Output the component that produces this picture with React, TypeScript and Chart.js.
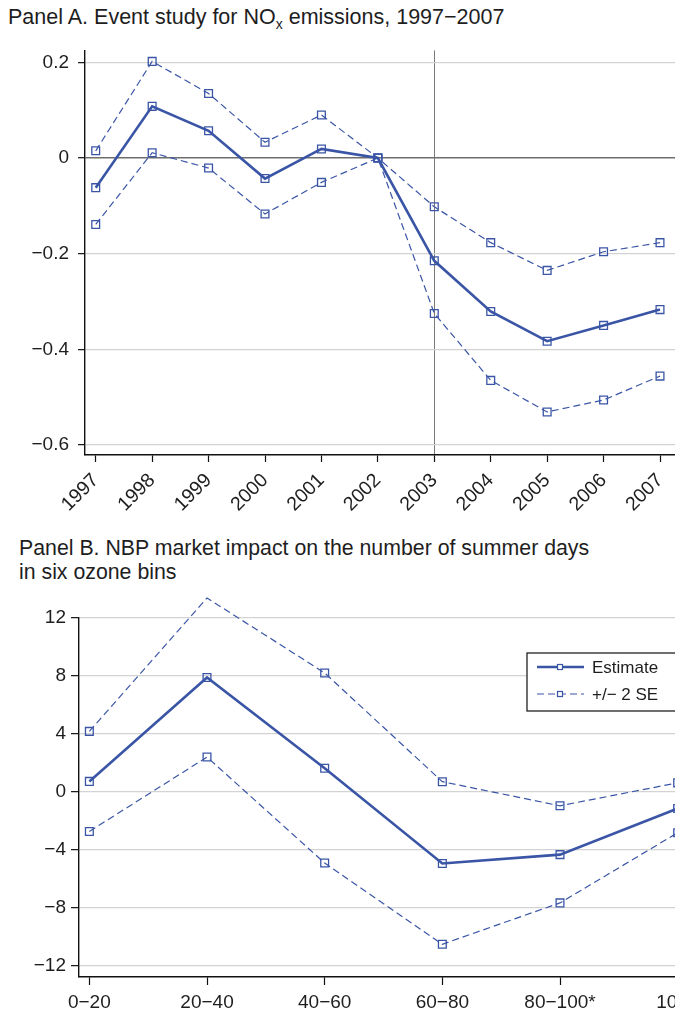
import React, { useEffect, useRef } from 'react';
import { Chart, registerables } from 'chart.js';

Chart.register(...registerables);

const BLUE = '#3a55a6';
const FONT = "'Liberation Sans', Arial, Helvetica, sans-serif";
const TEXT = '#1e1e1e';

// ---------- Panel A data ----------
const yearsA = [1997, 1998, 1999, 2000, 2001, 2002, 2003, 2004, 2005, 2006, 2007];
const estimateA = [-0.062, 0.108, 0.057, -0.043, 0.019, 0, -0.215, -0.321, -0.383, -0.35, -0.317];
const upperA = [0.015, 0.202, 0.135, 0.033, 0.09, 0, -0.102, -0.177, -0.235, -0.196, -0.177];
const lowerA = [-0.139, 0.011, -0.021, -0.117, -0.051, 0, -0.325, -0.465, -0.531, -0.506, -0.456];
const yTicksA = [0.2, 0, -0.2, -0.4, -0.6];
const eventYearA = 2003;

// ---------- Panel B data ----------
const binsB = ['0−20', '20−40', '40−60', '60−80', '80−100*', '100+'];
const estimateB = [0.73, 7.9, 1.64, -4.93, -4.32, -1.14];
const upperB = [4.18, 13.38, 8.21, 0.71, -0.95, 0.63];
const lowerB = [-2.72, 2.41, -4.9, -10.5, -7.65, -2.81];
const yTicksB = [12, 8, 4, 0, -4, -8, -12];

const LEGEND_EST = 'Estimate';
const LEGEND_SE = '+/− 2 SE';

const fmtMinus = (v: number, digits: number) =>
  v === 0 ? '0' : (v < 0 ? '−' : '') + Math.abs(v).toFixed(digits);

function seriesStyle(kind: 'est' | 'se') {
  const est = kind === 'est';
  return {
    borderColor: BLUE,
    borderWidth: est ? 2.6 : 1.2,
    borderDash: est ? [] : [7, 4],
    pointStyle: 'rect',
    pointRadius: 5.5,
    pointBorderWidth: 1.3,
    pointBorderColor: BLUE,
    pointBackgroundColor: 'rgba(0,0,0,0)',
    fill: false,
    tension: 0,
    clip: false as any,
  };
}

const boxLegend = {
  id: 'boxLegend',
  afterDatasetsDraw(chart: any) {
    const { ctx, chartArea } = chart;
    const x0 = chartArea.left + 448;
    const y0 = chartArea.top + 35;
    ctx.save();
    ctx.fillStyle = '#ffffff';
    ctx.fillRect(x0, y0, 220, 58);
    ctx.strokeStyle = '#222';
    ctx.lineWidth = 1.3;
    ctx.setLineDash([]);
    ctx.strokeRect(x0, y0, 220, 58);
    const entries = [
      { ds: chart.data.datasets[0], y: y0 + 14 },
      { ds: chart.data.datasets[1], y: y0 + 41 },
    ];
    entries.forEach(({ ds, y }) => {
      ctx.strokeStyle = ds.borderColor;
      ctx.lineWidth = ds.borderWidth;
      ctx.setLineDash(ds.borderDash || []);
      ctx.beginPath();
      ctx.moveTo(x0 + 10, y);
      ctx.lineTo(x0 + 57, y);
      ctx.stroke();
      ctx.setLineDash([]);
      ctx.lineWidth = 1.2;
      ctx.fillStyle = '#fff';
      ctx.fillRect(x0 + 30.5, y - 2.5, 5, 5);
      ctx.strokeRect(x0 + 30.5, y - 2.5, 5, 5);
      ctx.fillStyle = TEXT;
      ctx.font = `17px ${FONT}`;
      ctx.textBaseline = 'middle';
      ctx.textAlign = 'left';
      ctx.fillText(ds.label, x0 + 65, y + 1);
    });
    ctx.restore();
  },
};

function PanelA() {
  const ref = useRef<HTMLCanvasElement>(null);
  useEffect(() => {
    const mk = (vals: number[]) => yearsA.map((x, i) => ({ x, y: vals[i] }));
    const chart = new Chart(ref.current!, {
      type: 'line',
      data: {
        datasets: [
          { label: 'Upper', data: mk(upperA), ...seriesStyle('se') } as any,
          { label: 'Lower', data: mk(lowerA), ...seriesStyle('se') } as any,
          { label: 'Estimate', data: mk(estimateA), ...seriesStyle('est') } as any,
        ],
      },
      options: {
        responsive: false,
        animation: false,
        devicePixelRatio: 1,
        layout: { padding: { top: 18, left: 0, right: 0, bottom: 0 } },
        plugins: { legend: { display: false }, tooltip: { enabled: false }, title: { display: false } },
        scales: {
          x: {
            type: 'linear',
            min: 1996.81,
            max: 2007.73,
            afterBuildTicks: (s: any) => { s.ticks = yearsA.map((v) => ({ value: v })); },
            afterFit: (s: any) => { s.height = 75; },
            ticks: {
              color: TEXT,
              font: { size: 19.5, family: FONT },
              minRotation: 45,
              maxRotation: 45,
              padding: 7,
              callback: (v: any) => String(v),
            },
            grid: {
              drawOnChartArea: true,
              color: (c: any) => (c.tick && c.tick.value === eventYearA ? '#7a7a7a' : 'rgba(0,0,0,0)'),
              lineWidth: 1,
              tickColor: '#111',
              tickLength: 7,
              tickWidth: 1.2,
            },
            border: { display: true, color: '#111', width: 1.4 },
          },
          y: {
            type: 'linear',
            min: -0.621,
            max: 0.225,
            afterBuildTicks: (s: any) => { s.ticks = yTicksA.map((v) => ({ value: v })); },
            afterFit: (s: any) => { s.width = 77; },
            ticks: {
              color: TEXT,
              font: { size: 19, family: FONT },
              padding: 9,
              callback: (v: any) => fmtMinus(Number(v), 1),
            },
            grid: {
              color: (c: any) => (c.tick && c.tick.value === 0 ? '#6e6e6e' : '#d3d3d3'),
              lineWidth: (c: any) => (c.tick && c.tick.value === 0 ? 1.4 : 1.3),
              tickColor: '#111',
              tickLength: 7,
              tickWidth: 1.2,
            },
            border: { display: true, color: '#111', width: 1.4 },
          },
        },
      } as any,
    });
    return () => chart.destroy();
  }, []);
  return <canvas ref={ref} width={700} height={500} style={{ display: 'block', width: 700, height: 500 }} />;
}

function PanelB() {
  const ref = useRef<HTMLCanvasElement>(null);
  useEffect(() => {
    const mk = (vals: number[]) => binsB.map((_, i) => ({ x: i, y: vals[i] }));
    const chart = new Chart(ref.current!, {
      type: 'line',
      data: {
        datasets: [
          { label: LEGEND_EST, data: mk(estimateB), ...seriesStyle('est') } as any,
          { label: LEGEND_SE, data: mk(upperB), ...seriesStyle('se') } as any,
          { label: '', data: mk(lowerB), ...seriesStyle('se') } as any,
        ],
      },
      options: {
        responsive: false,
        animation: false,
        devicePixelRatio: 1,
        layout: { padding: { top: 38, left: 0, right: 0, bottom: 0 } },
        plugins: { legend: { display: false }, tooltip: { enabled: false }, title: { display: false } },
        scales: {
          x: {
            type: 'linear',
            min: -0.088,
            max: 5.37,
            afterBuildTicks: (s: any) => { s.ticks = binsB.map((_, i) => ({ value: i })); },
            afterFit: (s: any) => { s.height = 34; },
            ticks: {
              color: TEXT,
              font: { size: 19, family: FONT },
              maxRotation: 0,
              minRotation: 0,
              padding: 6,
              autoSkip: false,
              callback: (v: any) => binsB[Math.round(Number(v))] ?? '',
            },
            grid: {
              drawOnChartArea: false,
              tickColor: '#111',
              tickLength: 8,
              tickWidth: 1.2,
            },
            border: { display: true, color: '#111', width: 1.4 },
          },
          y: {
            type: 'linear',
            min: -12.76,
            max: 12,
            afterBuildTicks: (s: any) => { s.ticks = yTicksB.map((v) => ({ value: v })); },
            afterFit: (s: any) => { s.width = 71; },
            ticks: {
              color: TEXT,
              font: { size: 19, family: FONT },
              padding: 5,
              callback: (v: any) => fmtMinus(Number(v), 0),
            },
            grid: {
              color: '#d3d3d3',
              lineWidth: 1.3,
              tickColor: '#111',
              tickLength: 8,
              tickWidth: 1.2,
            },
            border: { display: true, color: '#111', width: 1.4 },
          },
        },
      } as any,
      plugins: [boxLegend],
    });
    return () => chart.destroy();
  }, []);
  return <canvas ref={ref} width={720} height={431} style={{ display: 'block', width: 720, height: 431 }} />;
}

export default function App() {
  const titleStyle: React.CSSProperties = {
    position: 'absolute',
    fontFamily: FONT,
    color: TEXT,
    whiteSpace: 'nowrap',
  };
  return (
    <div
      style={{
        position: 'fixed',
        left: 8,
        top: 8,
        width: 667,
        height: 1011,
        overflow: 'hidden',
        fontFamily: FONT,
        background: '#fff',
      }}
    >
      <div style={{ ...titleStyle, left: 0, top: -3, fontSize: 21.5, lineHeight: '24px' }}>
        Panel A. Event study for NO
        <span style={{ fontSize: 14, position: 'relative', top: 5 }}>x</span> emissions, 1997−2007
      </div>
      <div style={{ position: 'absolute', left: 0, top: 22 }}>
        <PanelA />
      </div>
      <div style={{ ...titleStyle, left: 11, top: 528, fontSize: 21.3, lineHeight: '24px' }}>
        Panel B. NBP market impact on the number of summer days
        <br />
        in six ozone bins
      </div>
      <div style={{ position: 'absolute', left: 0, top: 572 }}>
        <PanelB />
      </div>
    </div>
  );
}
